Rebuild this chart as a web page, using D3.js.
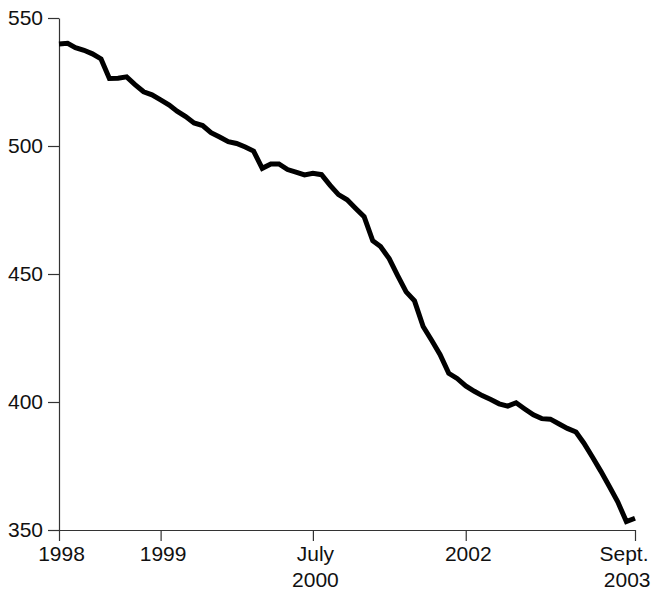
<!DOCTYPE html>
<html>
<head>
<meta charset="utf-8">
<script src="https://cdn.jsdelivr.net/npm/d3@7"></script>
<style>
  body { margin: 0; background: #fff; }
  .axis text { font-family: "Liberation Sans", Arial, sans-serif; font-size: 21px; fill: #111; }
  .axis path, .axis line { stroke: #333; stroke-width: 1.2; }
</style>
</head>
<body>
<div id="chart"></div>
<script>
// monthly values, Jan 1998 .. Sept 2003
var startMonth = new Date(1998, 0, 1);
var values = [
  539.8, 540.1, 538.4, 537.4, 536, 534, 526.4, 526.5, 527, 524, 521.2, 520,
  518, 516, 513.6, 511.5, 509, 508, 505.2, 503.5, 501.7, 501, 499.6, 498,
  491.3, 493, 493, 490.8, 489.8, 488.7, 489.3, 488.8, 484.6, 481, 479, 475.7,
  472.4, 463, 460.7, 456, 449.5, 443, 439.5, 429.5, 424, 418.5, 411.2, 409.2,
  406.3, 404.2, 402.5, 401, 399.3, 398.4, 399.7, 397.3, 395, 393.5, 393.3, 391.5,
  389.7, 388.3, 384, 378.5, 373, 367, 361, 353.3, 354.6
];
var xTickDates = [new Date(1998, 0, 1), new Date(1999, 0, 1), new Date(2000, 6, 1),
                  new Date(2002, 0, 1), new Date(2003, 8, 1)];
var xTickLabels = [["1998"], ["1999"], ["July", "2000"], ["2002"], ["Sept.", "2003"]];
var yTicks = [350, 400, 450, 500, 550];

var width = 651, height = 592,
    margin = { top: 18, right: 16, bottom: 62, left: 59 };

var series = values.map(function (v, i) {
  return { date: d3.timeMonth.offset(startMonth, i), value: v };
});

var x = d3.scaleTime()
  .domain([xTickDates[0], xTickDates[xTickDates.length - 1]])
  .range([margin.left, width - margin.right]);
var y = d3.scaleLinear()
  .domain([350, 550])
  .range([height - margin.bottom, margin.top]);

var svg = d3.select('#chart')
  .append('svg')
    .attr('width', width)
    .attr('height', height);

var xAxis = svg.append('g')
    .attr('class', 'axis')
    .attr('transform', 'translate(0,' + (height - margin.bottom) + ')')
    .call(d3.axisBottom(x)
      .tickValues(xTickDates)
      .tickSize(11)
      .tickSizeOuter(0)
      .tickPadding(5)
      .tickFormat(function () { return ''; }));

var lastTick = xTickDates.length - 1;
xAxis.selectAll('.tick text').each(function (d, i) {
  var t = d3.select(this);
  // last label is pulled in so it stays inside the frame
  if (i === lastTick) t.attr('text-anchor', 'end');
  xTickLabels[i].forEach(function (line, j) {
    t.append('tspan')
      .attr('x', i === lastTick ? (j === 0 ? 13 : 15) : 2)
      .attr('dy', j === 0 ? '0.71em' : '1.24em')
      .text(line);
  });
});

svg.append('g')
    .attr('class', 'axis')
    .attr('transform', 'translate(' + margin.left + ',0)')
    .call(d3.axisLeft(y)
      .tickValues(yTicks)
      .tickSize(11)
      .tickSizeOuter(0)
      .tickPadding(5));

var line = d3.line()
  .x(function (d) { return x(d.date); })
  .y(function (d) { return y(d.value); });

svg.append('path')
  .datum(series)
  .attr('d', line)
  .attr('fill', 'none')
  .attr('stroke', '#000')
  .attr('stroke-width', 5)
  .attr('stroke-linejoin', 'miter');
</script>
</body>
</html>
